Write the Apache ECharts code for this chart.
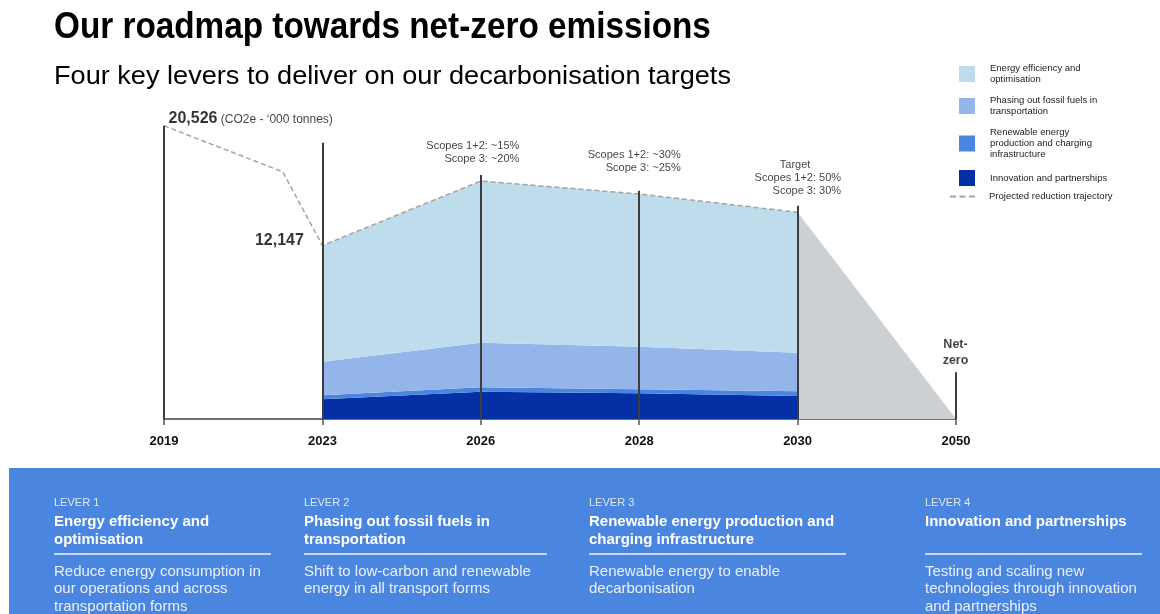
<!DOCTYPE html>
<html>
<head>
<meta charset="utf-8">
<script src="https://cdn.jsdelivr.net/npm/echarts@6/dist/echarts.min.js"></script>
<style>
  html, body { margin: 0; padding: 0; background: #fff; }
  #chart { width: 1160px; height: 614px; }
</style>
</head>
<body>
<div id="chart"></div>
<script>
// Milestone years shown on the horizontal axis (one slot each)
const years = ['2019', '2023', '2026', '2028', '2030', '2050'];

// Projected reduction trajectory, '000 tonnes CO2e (x = slot index; 0.75 is 2022)
const trajectoryX = [0, 0.75, 1, 2, 3, 4];
const trajectory = [20526, 17300, 12147, 16660, 15750, 14469];

// Contribution of each lever, 2023–2030 ('000 tonnes CO2e)
const leverYears = ['2023', '2026', '2028', '2030'];
const innovation = [1379, 1911, 1799, 1610];
const renewable = [280, 308, 280, 329];
const fossilFuels = [2352, 3122, 2982, 2702];
const efficiency = [8136, 11319, 10689, 9828];

// Glide path from the 2030 target to net zero in 2050
const netZeroYears = ['2030', '2050'];
const netZero = [14469, 0];

// Height reached by each milestone's vertical marker
const stemTops = [20526, 19340, 17080, 15980, 14930, 3270];

// Milestone annotations
const notes = ['', '', 'Scopes 1+2: ~15%\nScope 3: ~20%', 'Scopes 1+2: ~30%\nScope 3: ~25%', 'Scopes 1+2: 50%\nScope 3: 30%', 'Net-\nzero'];
const targetHeading = 'Target';
const unitText = '(CO2e - \u2018000 tonnes)';

// Headings
const titleText = 'Our roadmap towards net-zero emissions';
const subtitleText = 'Four key levers to deliver on our decarbonisation targets';

// Series names (legend entries)
const seriesNames = [
  'Energy efficiency and\noptimisation',
  'Phasing out fossil fuels in\ntransportation',
  'Renewable energy\nproduction and charging\ninfrastructure',
  'Innovation and partnerships'
];
const trajectoryName = 'Projected reduction trajectory';

// Lever panel
const leverLabels = ['LEVER 1', 'LEVER 2', 'LEVER 3', 'LEVER 4'];
const leverTitles = ['Energy efficiency and\noptimisation', 'Phasing out fossil fuels in\ntransportation', 'Renewable energy production and\ncharging infrastructure', 'Innovation and partnerships'];
const leverTexts = ['Reduce energy consumption in\nour operations and across\ntransportation forms', 'Shift to low-carbon and renewable\nenergy in all transport forms', 'Renewable energy to enable\ndecarbonisation', 'Testing and scaling new\ntechnologies through innovation\nand partnerships'];

const FONT = '"Liberation Sans", Arial, Helvetica, sans-serif';
const colors = {
  efficiency: '#bfdcec',
  fossil: '#93b5ea',
  renewable: '#4a86e0',
  innovation: '#0530a5',
  netZero: '#cdd0d3',
  stem: '#3d3d3d',
  trajectory: '#a3a3a3',
  panel: '#4a86e0'
};

const fmt = v => v.toLocaleString('en-US');
const pairs = (xs, ys) => xs.map((x, i) => [x, ys[i]]);

// Label placement for milestone notes (pixel offsets from the marker top)
const noteLayout = [
  null, null,
  { align: 'right', position: [39, -9.5] },
  { align: 'right', position: [42, -16] },
  { align: 'right', position: [44, -8] },
  { align: 'center', position: [0, -3], bold: true }
];

const chart = echarts.init(document.getElementById('chart'), null, { renderer: 'canvas' });

function areaSeries(name, values, color) {
  return {
    name, type: 'line', stack: 'levers', xAxisIndex: 0, data: pairs(leverYears, values),
    symbol: 'none', lineStyle: { width: 0 }, itemStyle: { color },
    areaStyle: { color, opacity: 1 }, z: 2, silent: true
  };
}

const noteData = [];
years.forEach((y, i) => {
  if (!notes[i]) return;
  const l = noteLayout[i];
  noteData.push({
    value: [i, stemTops[i]],
    label: {
      show: true, formatter: notes[i], position: l.position, align: l.align,
      verticalAlign: 'bottom', fontSize: l.bold ? 12.5 : 11, lineHeight: l.bold ? 16 : 13,
      fontWeight: l.bold ? 'bold' : 'normal', color: '#111', fontFamily: FONT
    }
  });
});
// Heading above the 2030 target
noteData.push({
  value: [4, stemTops[4]],
  label: { show: true, formatter: targetHeading, position: [-2, -34], align: 'center', verticalAlign: 'bottom', fontSize: 11, lineHeight: 13, color: '#111', fontFamily: FONT }
});
// Emission values at 2019 and 2023
noteData.push({
  value: [trajectoryX[0], trajectory[0]],
  label: {
    show: true, position: [5, -7], align: 'left', verticalAlign: 'middle',
    formatter: '{b|' + fmt(trajectory[0]) + '} {u|' + unitText + '}',
    rich: {
      b: { fontSize: 16, fontWeight: 'bold', color: '#000', fontFamily: FONT },
      u: { fontSize: 12, color: '#111', fontFamily: FONT, padding: [2, 0, 0, 0] }
    }
  }
});
noteData.push({
  value: [trajectoryX[2], trajectory[2]],
  label: { show: true, position: [-18, -4.5], align: 'right', verticalAlign: 'middle', formatter: fmt(trajectory[2]), fontSize: 16, fontWeight: 'bold', color: '#000', fontFamily: FONT }
});

// Headings (tight tracking on the title, open tracking on the subtitle)
const graphics = [
  { type: 'text', x: 54, y: 27.5, scaleX: 0.9, silent: true,
    style: { text: titleText, font: 'bold 37px ' + FONT, fill: '#000', verticalAlign: 'middle' } },
  { type: 'text', x: 54, y: 77, scaleX: 1.085, silent: true,
    style: { text: subtitleText, font: '25px ' + FONT, fill: '#000', verticalAlign: 'middle' } }
];

// Lever panel graphics
const panelCols = [54, 304, 589, 925];
const dividerW = [217, 243, 257, 217];
graphics.push({
  type: 'rect', shape: { x: 9, y: 468, width: 1151, height: 146 },
  style: { fill: colors.panel }, silent: true, z: 0
});
leverLabels.forEach((lab, i) => {
  const x = panelCols[i];
  graphics.push({ type: 'text', x, y: 503, silent: true, z: 1,
    style: { text: lab, fill: '#dfe8f8', font: '11px ' + FONT, verticalAlign: 'middle' } });
  graphics.push({ type: 'text', x, y: 513, silent: true, z: 1,
    style: { text: leverTitles[i], fill: '#ffffff', font: 'bold 15px ' + FONT, lineHeight: 18, verticalAlign: 'top' } });
  graphics.push({ type: 'line', silent: true, z: 1,
    shape: { x1: x, y1: 554, x2: x + dividerW[i], y2: 554 },
    style: { stroke: '#eef3fc', lineWidth: 1.5 } });
  graphics.push({ type: 'text', x, y: 563, silent: true, z: 1,
    style: { text: leverTexts[i], fill: '#eaf0fb', font: '15px ' + FONT, lineHeight: 17.5, verticalAlign: 'top' } });
});

const option = {
  animation: false,
  backgroundColor: '#ffffff',
  textStyle: { fontFamily: FONT },
  legend: [
    { data: seriesNames, orient: 'vertical', left: 959, top: 63, padding: 0,
      itemWidth: 16, itemHeight: 16, itemGap: 10, icon: 'rect', selectedMode: false,
      textStyle: { fontSize: 9.5, lineHeight: 11, color: '#222', fontFamily: FONT, padding: [0, 0, 0, 10] } },
    { data: [{ name: trajectoryName, icon: 'path://M0,0H6V2H0Z M9.5,0H15.5V2H9.5Z M19,0H25V2H19Z' }],
      orient: 'vertical', left: 950, top: 191, padding: 0,
      itemWidth: 25, itemHeight: 2, selectedMode: false,
      itemStyle: { color: colors.trajectory },
      textStyle: { fontSize: 9.5, lineHeight: 11, color: '#222', fontFamily: FONT, padding: [0, 0, 0, 9] } }
  ],
  grid: { left: 164, right: 204, top: 119, height: 300, containLabel: false },
  xAxis: [
    {
      type: 'category', data: years, boundaryGap: false,
      axisLine: { show: true, lineStyle: { color: '#6e6e6e', width: 2 } },
      axisTick: { show: true, length: 6, lineStyle: { color: '#555', width: 1.5 } },
      axisLabel: { margin: 16, fontSize: 13, fontWeight: 'bold', color: '#111', fontFamily: FONT, interval: 0 },
      splitLine: { show: false }
    },
    { type: 'value', min: 0, max: 5, interval: 1, show: false }
  ],
  yAxis: { type: 'value', min: 0, max: 21000, show: false },
  graphic: graphics,
  series: [
    {
      name: 'Net zero', type: 'line', xAxisIndex: 0, data: pairs(netZeroYears, netZero), symbol: 'none',
      lineStyle: { width: 0 }, areaStyle: { color: colors.netZero, opacity: 1 }, z: 1, silent: true
    },
    areaSeries(seriesNames[3], innovation, colors.innovation),
    areaSeries(seriesNames[2], renewable, colors.renewable),
    areaSeries(seriesNames[1], fossilFuels, colors.fossil),
    areaSeries(seriesNames[0], efficiency, colors.efficiency),
    {
      name: trajectoryName, type: 'line', xAxisIndex: 1, data: pairs(trajectoryX, trajectory), symbol: 'none',
      itemStyle: { color: colors.trajectory },
      lineStyle: { color: colors.trajectory, width: 1.5, type: [5, 3] }, z: 4, silent: true
    },
    {
      name: 'Milestones', type: 'scatter', xAxisIndex: 1, data: noteData, symbolSize: 1,
      itemStyle: { color: 'transparent' }, z: 6, silent: true,
      markLine: {
        silent: true, symbol: ['none', 'none'], animation: false,
        label: { show: false },
        lineStyle: { color: colors.stem, width: 2, type: 'solid' },
        emphasis: { disabled: true },
        data: years.map((_, i) => [{ coord: [i, 0] }, { coord: [i, stemTops[i]] }])
      }
    }
  ]
};

chart.setOption(option);
</script>
</body>
</html>
